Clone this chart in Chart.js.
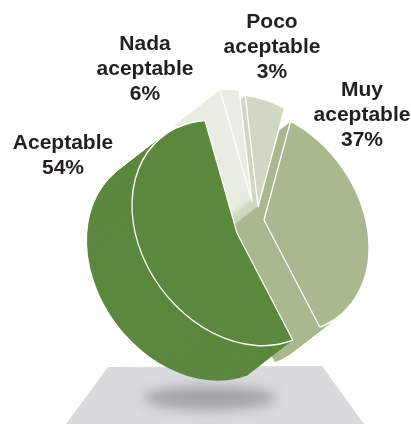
<!DOCTYPE html>
<html>
<head>
<meta charset="utf-8">
<style>
    html, body { margin: 0; padding: 0; background: #fff; }
    #wrap { width: 411px; height: 424px; }
</style>
</head>
<body>
<div id="wrap"><canvas id="pieChart"></canvas></div>
<script src="https://cdn.jsdelivr.net/npm/chart.js@4"></script>
<script>
// wedges clockwise, as they sit round the pie
const categories = ['Muy aceptable', 'Aceptable', 'Poco aceptable', 'Nada aceptable'];
const values = [37, 54, 3, 6];
const colors = ['#a9b88f', '#5c883e', '#e9ece3', '#d0d8c2'];

// the texts, where the picture has them
const labelLines = [
    ['Poco', 'aceptable', '3%'],
    ['Nada', 'aceptable', '6%'],
    ['Muy', 'aceptable', '37%'],
    ['Aceptable', '54%']
];

const labelX = [272, 145, 362, 63];
const labelY = [22, 44, 90, 143];

const center = { x: 260, y: 225 };
const tilt = 53 * Math.PI / 180;
const major = 122, minor = 94;
const depth = { x: -45, y: 35 };
const paintOrder = [0, 3, 2, 1];   // back to front
// how far each wedge was pulled out of the pie, same order as categories
const pullX = [4, -23, -8, -2];
const pullY = [-5, 8, -23, -18];

function drawFloor(ctx) {
    ctx.save();
    ctx.fillStyle = '#d9dadc';
    ctx.beginPath();
    ctx.moveTo(108, 367);
    ctx.lineTo(322, 366);
    ctx.lineTo(364, 424);
    ctx.lineTo(66, 424);
    ctx.closePath();
    ctx.fill();
    // shadow under the pie
    ctx.filter = 'blur(6px)';
    ctx.fillStyle = '#a3a4a8';
    ctx.beginPath();
    ctx.ellipse(210, 398, 66, 12, 0, 0, Math.PI * 2);
    ctx.fill();
    ctx.restore();
}

const tiltedPie = {
    id: 'tiltedPie',
    beforeDatasetsDraw(chart) {
        const ctx = chart.ctx;
        const arcs = chart.getDatasetMeta(0).data;
        drawFloor(ctx);

        paintOrder.forEach(function (i) {
            const arc = arcs[i];
            const r = arc.outerRadius;
            const place = function (dx, dy) {
                ctx.translate(center.x + pullX[i] + dx, center.y + pullY[i] + dy);
                ctx.rotate(tilt);
                ctx.scale(major / r, minor / r);
                ctx.translate(-arc.x, -arc.y);
            };

            // side of the slice
            const opts = arc.options;
            arc.options = Object.assign({}, opts, { borderWidth: 0 });
            for (let s = 60; s > 0; s--) {
                ctx.save();
                place(depth.x * s / 60, depth.y * s / 60);
                arc.draw(ctx);
                ctx.restore();
            }
            arc.options = opts;

            // top of the slice
            ctx.save();
            place(0, 0);
            arc.draw(ctx);
            ctx.restore();
        });
        return false;
    },
    afterDraw(chart) {
        const ctx = chart.ctx;
        ctx.save();
        ctx.font = 'bold 21px "Liberation Sans"';
        ctx.fillStyle = '#231f20';
        ctx.textAlign = 'center';
        ctx.textBaseline = 'middle';
        labelLines.forEach(function (lines, i) {
            lines.forEach(function (line, k) {
                ctx.fillText(line, labelX[i], labelY[i] + k * 25);
            });
        });
        ctx.restore();
    }
};

new Chart(document.getElementById('pieChart'), {
    type: 'pie',
    data: {
        labels: categories,
        datasets: [{
            data: values,
            backgroundColor: colors,
            borderColor: '#ffffff',
            borderWidth: 2.6
        }]
    },
    options: {
        responsive: true,
        maintainAspectRatio: false,
        animation: false,
        rotation: 329,
        plugins: {
            legend: { display: false },
            title: { display: false },
            tooltip: { enabled: false }
        }
    },
    plugins: [tiltedPie]
});
</script>
</body>
</html>
